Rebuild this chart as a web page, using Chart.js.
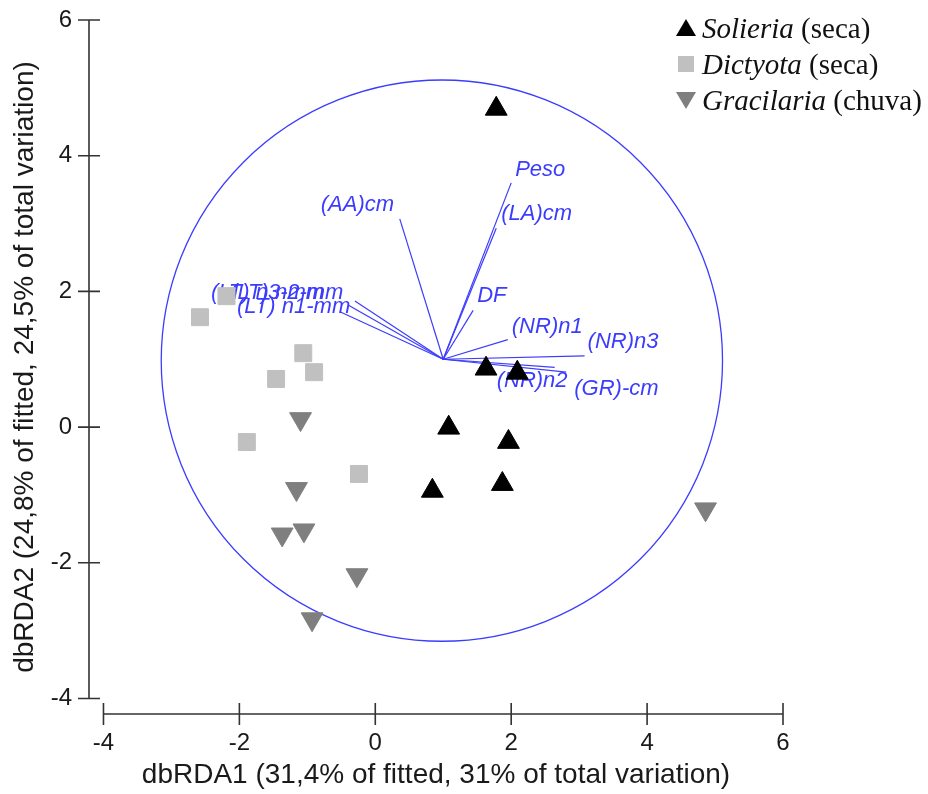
<!DOCTYPE html>
<html>
<head>
<meta charset="utf-8">
<script src="https://cdn.jsdelivr.net/npm/chart.js@4.4.0/dist/chart.umd.min.js"></script>
<style>
  html, body { margin: 0; padding: 0; background: #fff; }
  #wrap { position: relative; width: 928px; height: 794px; }
  #legend { position: absolute; left: 675px; top: 10px;
    font-family: "Liberation Serif", "Times New Roman", serif; font-size: 29px; color: #111; }
  .row { height: 36px; display: flex; align-items: center; white-space: nowrap; }
  .row svg { margin-right: 5px; flex: none; }
  .row i { font-style: italic; }
  .row span { white-space: pre; }
</style>
</head>
<body>
<div id="wrap">
  <canvas id="chart" width="928" height="794"></canvas>
  <div id="legend"></div>
</div>
<script>
// sample scores (dbRDA1, dbRDA2)
var solieriaX = [1.78, 1.63, 2.09, 1.08, 1.96, 0.84, 1.87];
var solieriaY = [4.69, 0.86, 0.80, -0.01, -0.22, -0.94, -0.84];
var dictyotaX = [-2.19, -2.58, -1.06, -0.90, -1.46, -1.89, -0.24];
var dictyotaY = [1.93, 1.62, 1.09, 0.81, 0.71, -0.22, -0.69];
var gracilariaX = [-1.10, -1.16, -1.37, -1.05, -0.27, -0.93, 4.86];
var gracilariaY = [0.12, -0.91, -1.58, -1.52, -2.18, -2.83, -1.21];

// predictor vectors, drawn from vecOrigin
var vecNames = ['Peso', '(LA)cm', '(AA)cm', 'DF', '(NR)n1', '(NR)n3', '(NR)n2', '(GR)-cm',
  '(LT) n3-mm', '(LT) n2-mm', '(LT) n1-mm'];
var vecX = [2.00, 1.78, 0.36, 1.44, 1.95, 3.08, 2.64, 2.81, -0.30, -0.40, -0.52];
var vecY = [3.60, 2.93, 3.07, 1.72, 1.29, 1.05, 0.88, 0.81, 1.86, 1.80, 1.70];
var vecOrigin = [1, 1];
var circleCentre = [0.98, 0.98];
var circleRadius = 4.13;

var xTicks = [-4, -2, 0, 2, 4, 6];
var yTicks = [-4, -2, 0, 2, 4, 6];

// label placement (pixels from the vector tip: left edge, middle)
var labelDx = [4, 5, -79, 4, 4, 3, -58, 8, -144, -118, -103];
var labelDy = [-13, -14, -14, -15, -13, -14, 13, 17, -8, -12, -5];

var blue = '#3c3cff';

function pts(xs, ys) {
  return xs.map(function (v, i) { return {x: v, y: ys[i]}; });
}

var datasets = [{
  label: 'Solieria', note: ' (seca)',
  data: pts(solieriaX, solieriaY),
  pointStyle: 'triangle', rotation: 0, pointRadius: 12.6,
  backgroundColor: '#000000', borderColor: '#000000', borderWidth: 1
}, {
  label: 'Dictyota', note: ' (seca)',
  data: pts(dictyotaX, dictyotaY),
  pointStyle: 'rect', rotation: 0, pointRadius: 12,
  backgroundColor: '#c0c0c0', borderColor: '#c0c0c0', borderWidth: 1
}, {
  label: 'Gracilaria', note: ' (chuva)',
  data: pts(gracilariaX, gracilariaY),
  pointStyle: 'triangle', rotation: 180, pointRadius: 12.6,
  backgroundColor: '#7f7f7f', borderColor: '#7f7f7f', borderWidth: 1
}];

var ordination = {
  id: 'ordination',
  beforeDatasetsDraw: function (chart) {
    var ctx = chart.ctx, x = chart.scales.x, y = chart.scales.y;
    ctx.save();
    // circle
    var cx = x.getPixelForValue(circleCentre[0]);
    var cy = y.getPixelForValue(circleCentre[1]);
    var r = x.getPixelForValue(circleCentre[0] + circleRadius) - cx;
    ctx.strokeStyle = blue;
    ctx.lineWidth = 1.3;
    ctx.beginPath();
    ctx.arc(cx, cy, r, 0, Math.PI * 2);
    ctx.stroke();
    // vectors + labels
    var ox = x.getPixelForValue(vecOrigin[0]), oy = y.getPixelForValue(vecOrigin[1]);
    ctx.lineWidth = 1.2;
    ctx.font = 'italic 22px "Liberation Sans", Arial, sans-serif';
    ctx.fillStyle = blue;
    ctx.textAlign = 'left';
    ctx.textBaseline = 'middle';
    for (var i = 0; i < vecNames.length; i++) {
      var ex = x.getPixelForValue(vecX[i]), ey = y.getPixelForValue(vecY[i]);
      ctx.beginPath();
      ctx.moveTo(ox, oy);
      ctx.lineTo(ex, ey);
      ctx.stroke();
      ctx.fillText(vecNames[i], ex + labelDx[i], ey + labelDy[i]);
    }
    ctx.restore();
  },
  afterDraw: function (chart) {
    var ctx = chart.ctx, x = chart.scales.x, y = chart.scales.y;
    var ax = chart.chartArea.left, ay = chart.chartArea.bottom;
    ctx.save();
    ctx.strokeStyle = '#333';
    ctx.lineWidth = 1.6;
    ctx.beginPath();
    ctx.moveTo(ax, y.getPixelForValue(yTicks[0]));
    ctx.lineTo(ax, y.getPixelForValue(yTicks[yTicks.length - 1]));
    ctx.moveTo(x.getPixelForValue(xTicks[0]), ay);
    ctx.lineTo(x.getPixelForValue(xTicks[xTicks.length - 1]), ay);
    yTicks.forEach(function (v) {
      var p = y.getPixelForValue(v);
      ctx.moveTo(ax - 11, p); ctx.lineTo(ax + 11, p);
    });
    xTicks.forEach(function (v) {
      var p = x.getPixelForValue(v);
      ctx.moveTo(p, ay - 11); ctx.lineTo(p, ay + 11);
    });
    ctx.stroke();
    ctx.restore();
  }
};

var tickFont = {family: '"Liberation Sans", Arial, sans-serif', size: 24};
var titleFont = {family: '"Liberation Sans", Arial, sans-serif', size: 28};

var chart = new Chart(document.getElementById('chart'), {
  type: 'scatter',
  data: {datasets: datasets},
  options: {
    responsive: false,
    animation: false,
    layout: {padding: {top: 20, right: 145, left: 0, bottom: 0}},
    plugins: {legend: {display: false}, tooltip: {enabled: false}},
    scales: {
      x: {
        type: 'linear', min: -4.213, max: 6,
        afterBuildTicks: function (s) { s.ticks = xTicks.map(function (v) { return {value: v}; }); },
        afterFit: function (s) { s.height = 80; },
        grid: {display: false, drawTicks: true, tickLength: 12},
        border: {display: false},
        ticks: {font: tickFont, color: '#1a1a1a', padding: 3, maxRotation: 0, autoSkip: false},
        title: {display: true, text: 'dbRDA1 (31,4% of fitted, 31% of total variation)',
          font: titleFont, color: '#1a1a1a', padding: {top: 0, bottom: 2}}
      },
      y: {
        type: 'linear', min: -4.228, max: 6,
        afterBuildTicks: function (s) { s.ticks = yTicks.map(function (v) { return {value: v}; }); },
        afterFit: function (s) { s.width = 89; },
        grid: {display: false, drawTicks: true, tickLength: 12},
        border: {display: false},
        ticks: {font: tickFont, color: '#1a1a1a', padding: 5, autoSkip: false},
        title: {display: true, text: 'dbRDA2 (24,8% of fitted, 24,5% of total variation)',
          font: titleFont, color: '#1a1a1a', padding: {top: 8, bottom: 0}}
      }
    }
  },
  plugins: [ordination]
});

// keep the plot box where the reference has it
var pad = chart.options.layout.padding;
var dTop = chart.chartArea.top - 20;
if (Math.abs(dTop) > 0.5) {
  pad.top -= dTop;
  chart.update();
}

// legend with italic genus + plain season
var legend = document.getElementById('legend');
datasets.forEach(function (d) {
  var shape;
  if (d.pointStyle === 'rect') {
    shape = '<rect x="3" y="3" width="16" height="16" fill="' + d.backgroundColor + '"/>';
  } else if (d.rotation === 180) {
    shape = '<polygon points="1,3 21,3 11,20" fill="' + d.backgroundColor + '"/>';
  } else {
    shape = '<polygon points="11,2 21,19 1,19" fill="' + d.backgroundColor + '"/>';
  }
  var row = document.createElement('div');
  row.className = 'row';
  row.innerHTML = '<svg width="22" height="22">' + shape + '</svg><i>' + d.label + '</i><span>' + d.note + '</span>';
  legend.appendChild(row);
});
</script>
</body>
</html>
